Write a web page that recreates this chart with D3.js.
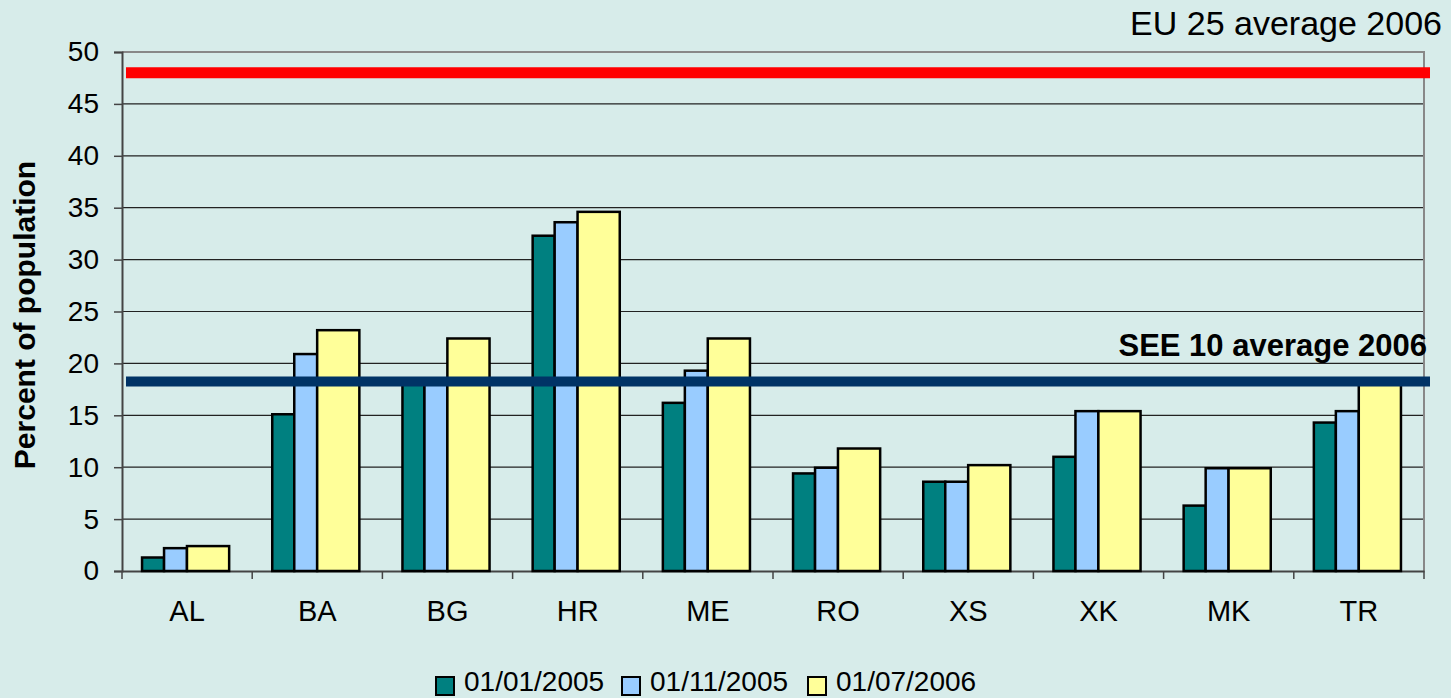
<!DOCTYPE html>
<html>
<head>
<meta charset="utf-8">
<script src="https://cdn.jsdelivr.net/npm/d3@7"></script>
<style>
  body { margin: 0; background: #d7ecea; }
  svg { display: block; font-family: "Liberation Sans", Arial, sans-serif; }
</style>
</head>
<body>
<svg id="chart"></svg>
<script>

// DATA

const countries = ["AL", "BA", "BG", "HR", "ME", "RO", "XS", "XK", "MK", "TR"];

const seriesNames = ["01/01/2005", "01/11/2005", "01/07/2006"];

const jan2005 = [1.3, 15.1, 18.2, 32.3, 16.2, 9.4, 8.6, 11.0, 6.3, 14.3];
const nov2005 = [2.2, 20.9, 18.2, 33.6, 19.3, 9.95, 8.6, 15.4, 9.9, 15.4];
const jul2006 = [2.4, 23.2, 22.4, 34.6, 22.4, 11.8, 10.2, 15.4, 9.9, 18.2];

const yTicks = [0, 5, 10, 15, 20, 25, 30, 35, 40, 45, 50];

const eu25Average = 48.0;
const see10Average = 18.25;

const colors = ["#008080", "#99ccff", "#ffff99"];

// LAYOUT

const width = 1451;
const height = 698;

const margin = { left: 122, right: 27, top: 52, bottom: 127 };

const svg = d3.select("#chart")
  .attr("width", width)
  .attr("height", height);

svg.append("rect")
  .attr("width", width)
  .attr("height", height)
  .attr("fill", "#d7ecea");

const x = d3.scaleBand()
  .domain(countries)
  .range([margin.left, width - margin.right]);

const y = d3.scaleLinear()
  .domain([0, 50])
  .range([height - margin.bottom, margin.top]);

// bar slots inside each band (yellow is drawn wider, like the original)
const slots = [
  { start: 0.154, size: 0.169 },
  { start: 0.323, size: 0.176 },
  { start: 0.499, size: 0.324 }
];

// GRID

svg.append("g")
  .selectAll("line")
  .data(yTicks.filter(t => t > 0 && t < 50))
  .enter()
  .append("line")
  .attr("x1", margin.left)
  .attr("x2", width - margin.right)
  .attr("y1", d => y(d))
  .attr("y2", d => y(d))
  .attr("stroke", "#222")
  .attr("stroke-width", 1.2);

// plot frame (top + right in gray)
svg.append("path")
  .attr("d", `M${margin.left},${y(50)}H${width - margin.right}V${y(0)}`)
  .attr("fill", "none")
  .attr("stroke", "#888")
  .attr("stroke-width", 2);

// AXES

const yAxis = svg.append("g")
  .attr("transform", `translate(${margin.left},0)`)
  .call(d3.axisLeft(y).tickValues(yTicks).tickSize(8).tickPadding(15));

yAxis.select(".domain").attr("stroke", "#444").attr("stroke-width", 2);
yAxis.selectAll(".tick line").attr("stroke", "#444").attr("stroke-width", 1.5);
yAxis.selectAll("text")
  .attr("font-size", 28)
  .attr("fill", "#000")
  .style("font-family", "Liberation Sans, Arial, sans-serif");

const xAxis = svg.append("g")
  .attr("transform", `translate(0,${y(0)})`)
  .call(d3.axisBottom(x).tickSize(0).tickPadding(29));

xAxis.select(".domain").attr("stroke", "#444").attr("stroke-width", 2);
xAxis.selectAll("text")
  .attr("font-size", 29)
  .attr("fill", "#000")
  .style("font-family", "Liberation Sans, Arial, sans-serif");

// category separators under the axis
const boundaries = countries.map(c => x(c)).concat([x.range()[1]]);

svg.append("g")
  .selectAll("line")
  .data(boundaries)
  .enter()
  .append("line")
  .attr("x1", d => d)
  .attr("x2", d => d)
  .attr("y1", y(0))
  .attr("y2", y(0) + 8)
  .attr("stroke", "#444")
  .attr("stroke-width", 1.5);

// BARS

const allSeries = [jan2005, nov2005, jul2006];

allSeries.forEach((values, i) => {

  svg.append("g")
    .selectAll("rect")
    .data(values.map((v, j) => ({ country: countries[j], value: v })))
    .enter()
    .append("rect")
    .attr("x", d => x(d.country) + slots[i].start * x.bandwidth())
    .attr("width", slots[i].size * x.bandwidth())
    .attr("y", d => y(d.value))
    .attr("height", d => y(0) - y(d.value))
    .attr("fill", colors[i])
    .attr("stroke", "#000")
    .attr("stroke-width", 2.5);

});

// AVERAGE LINES

svg.append("line")
  .attr("x1", margin.left + 4)
  .attr("x2", width - margin.right + 6)
  .attr("y1", y(eu25Average))
  .attr("y2", y(eu25Average))
  .attr("stroke", "#ff0000")
  .attr("stroke-width", 11);

svg.append("line")
  .attr("x1", margin.left + 4)
  .attr("x2", width - margin.right + 6)
  .attr("y1", y(see10Average))
  .attr("y2", y(see10Average))
  .attr("stroke", "#003366")
  .attr("stroke-width", 10);

svg.append("text")
  .attr("x", 1442)
  .attr("y", 35)
  .attr("text-anchor", "end")
  .attr("font-size", 34)
  .attr("fill", "#000")
  .text("EU 25 average 2006");

svg.append("text")
  .attr("x", 1427)
  .attr("y", 356)
  .attr("text-anchor", "end")
  .attr("font-size", 31)
  .attr("font-weight", "bold")
  .attr("fill", "#000")
  .text("SEE 10 average 2006");

// Y TITLE

svg.append("text")
  .attr("transform", `translate(35,315) rotate(-90)`)
  .attr("text-anchor", "middle")
  .attr("font-size", 30)
  .attr("font-weight", "bold")
  .attr("fill", "#000")
  .text("Percent of population");

// LEGEND

const legendX = [436, 622, 808];

const legend = svg.append("g")
  .selectAll("g")
  .data(seriesNames)
  .enter()
  .append("g")
  .attr("transform", (d, i) => `translate(${legendX[i]},677)`);

legend.append("rect")
  .attr("width", 18)
  .attr("height", 18)
  .attr("fill", (d, i) => colors[i])
  .attr("stroke", "#000")
  .attr("stroke-width", 2);

legend.append("text")
  .attr("x", 28)
  .attr("y", 14)
  .attr("font-size", 28)
  .attr("fill", "#000")
  .text(d => d);

</script>
</body>
</html>
